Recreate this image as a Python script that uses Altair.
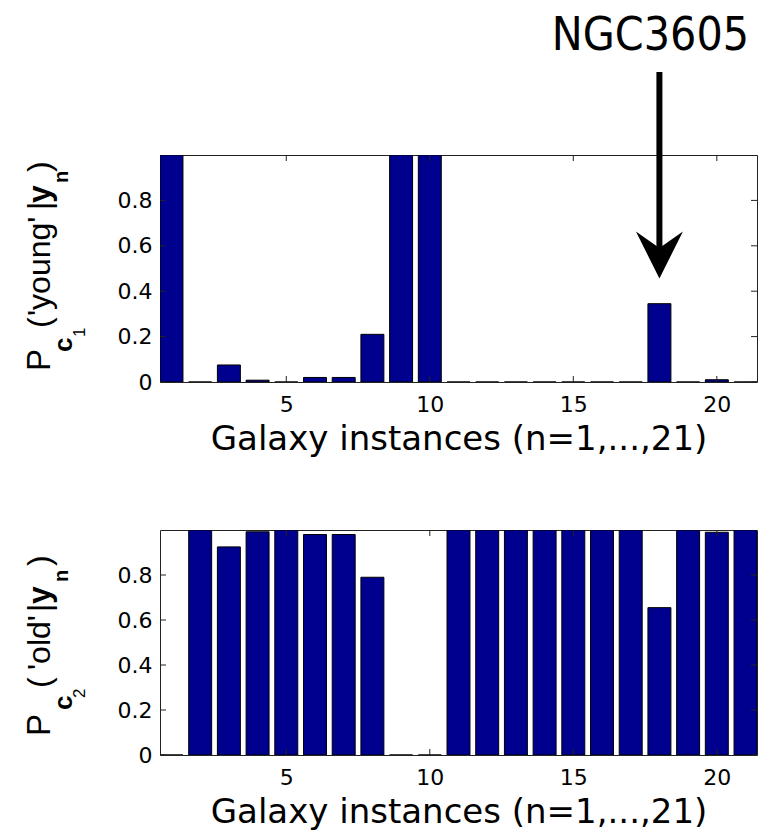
import altair as alt
import pandas as pd

# Posterior probability of each class for the 21 galaxy instances
instances = list(range(1, 22))
p_young = [1.0, 0.0, 0.075, 0.008, 0.0, 0.02, 0.02, 0.21, 1.0, 1.0,
           0.0, 0.0, 0.0, 0.0, 0.0, 0.0, 0.0, 0.345, 0.0, 0.01, 0.0]
p_old = [0.0, 1.0, 0.925, 0.992, 1.0, 0.98, 0.98, 0.79, 0.0, 0.0,
         1.0, 1.0, 1.0, 1.0, 1.0, 1.0, 1.0, 0.655, 1.0, 0.99, 1.0]

x_tick_values = [5, 10, 15, 20]
y_tick_values = [0, 0.2, 0.4, 0.6, 0.8]
x_title = "Galaxy instances (n=1,...,21)"
highlight_n = [18]
highlight_name = ["NGC3605"]

# Rotated y-axis titles built from pieces: (text, x, y, size, weight)
young_title = [
    ("P", -110, 216, 33, "normal"),
    ("c", -88, 197, 26, "bold"),
    ("1", -75, 182, 17, "normal"),
    ("(", -110, 173, 32, "normal"),
    ("'young'", -110, 161, 32, "normal"),
    ("|", -110, 55, 32, "normal"),
    ("y", -110, 48, 32, "bold"),
    ("n", -92, 28, 20, "bold"),
    (")", -110, 17, 32, "normal"),
]
old_title = [
    ("P", -110, 206, 33, "normal"),
    ("c", -88, 180, 26, "bold"),
    ("2", -75, 168, 17, "normal"),
    ("(", -110, 158, 32, "normal"),
    ("'old'", -110, 140, 32, "normal"),
    ("|", -110, 82, 32, "normal"),
    ("y", -110, 74, 32, "bold"),
    ("n", -92, 52, 20, "bold"),
    (")", -110, 36, 32, "normal"),
]

W = 597
BAR_BLUE = "#00008F"
FRAME = "#222222"
LABEL_FONT = "DejaVu Sans"
TITLE_FONT = "Liberation Sans"
NOTE_FONT = "Liberation Sans Narrow, DejaVu Sans Condensed, Roboto, sans-serif"
ARROW_HEAD = "M0,1L-1,-1L0,-0.3L1,-1Z"

x_scale = alt.Scale(domain=[0.6, 21.4], nice=False, zero=False)
y_scale = alt.Scale(domain=[0, 1], nice=False)

x_axis = alt.Axis(values=x_tick_values, title=x_title, ticks=False, tickSize=0,
                  domain=False, grid=False, labelFont=LABEL_FONT, labelFontSize=22,
                  labelColor="black", labelPadding=12, labelFlush=False,
                  titleFont=LABEL_FONT, titleFontSize=34, titleFontWeight="normal",
                  titleColor="black", titlePadding=7)
y_axis = alt.Axis(values=y_tick_values, title=None, ticks=False, tickSize=0,
                  domain=False, grid=False, format="~g", labelFont=LABEL_FONT,
                  labelFontSize=22, labelColor="black", labelPadding=8)


def panel(values, height, title_parts, annotate=False):
    frame = pd.DataFrame({"n": instances, "p": values})
    bars = alt.Chart(frame).transform_calculate(
        left="datum.n - 0.4", right="datum.n + 0.4", base="0"
    ).mark_bar(fill=BAR_BLUE, stroke="black", strokeWidth=1, clip=True).encode(
        x=alt.X("left:Q", scale=x_scale, axis=x_axis),
        x2="right:Q",
        y=alt.Y("p:Q", scale=y_scale, axis=y_axis),
        y2="base:Q",
    )

    # inward ticks on all four sides of the box
    xt = pd.DataFrame({"t": x_tick_values})
    yt = pd.DataFrame({"t": y_tick_values})
    xt_enc = alt.X("t:Q", scale=x_scale, axis=x_axis)
    yt_enc = alt.Y("t:Q", scale=y_scale, axis=y_axis)
    ticks = [
        alt.Chart(xt).mark_rule(color=FRAME, strokeWidth=1).encode(
            x=xt_enc, y=alt.value(height), y2=alt.value(height - 6)),
        alt.Chart(xt).mark_rule(color=FRAME, strokeWidth=1).encode(
            x=xt_enc, y=alt.value(0), y2=alt.value(6)),
        alt.Chart(yt).mark_rule(color=FRAME, strokeWidth=1).encode(
            y=yt_enc, x=alt.value(0), x2=alt.value(6)),
        alt.Chart(yt).mark_rule(color=FRAME, strokeWidth=1).encode(
            y=yt_enc, x=alt.value(W), x2=alt.value(W - 6)),
    ]

    one = pd.DataFrame({"k": [0]})
    title = [
        alt.Chart(one).mark_text(text=t, angle=270, align="left", baseline="alphabetic",
                                 font=TITLE_FONT, fontSize=s, fontWeight=w,
                                 color="black").encode(x=alt.value(bx), y=alt.value(by))
        for t, bx, by, s, w in title_parts
    ]

    layers = [bars] + ticks + title
    if annotate:
        hl = pd.DataFrame({"n": highlight_n, "name": highlight_name})
        hx = alt.X("n:Q", scale=x_scale, axis=x_axis)
        layers += [
            alt.Chart(hl).mark_rule(color="black", strokeWidth=6).encode(
                x=hx, y=alt.value(-83), y2=alt.value(95)),
            alt.Chart(hl).mark_point(shape=ARROW_HEAD, filled=True, color="black",
                                     opacity=1, size=47 * 47, strokeWidth=0).encode(
                x=hx, y=alt.value(100)),
            alt.Chart(hl).mark_text(font=NOTE_FONT, fontSize=46,
                                    align="center", baseline="alphabetic", dx=-9,
                                    color="black").encode(
                x=hx, y=alt.value(-105), text="name:N"),
        ]
    return alt.layer(*layers).properties(width=W, height=height)


top = panel(p_young, 227, young_title, annotate=True)
bottom = panel(p_old, 225, old_title)

chart = alt.vconcat(top, bottom, spacing=72).configure_view(
    stroke=FRAME, strokeWidth=1
).properties(padding={"left": 23, "top": 12, "right": 0, "bottom": 0})

chart.save("out.html", embed_options={"renderer": "svg", "actions": False})
